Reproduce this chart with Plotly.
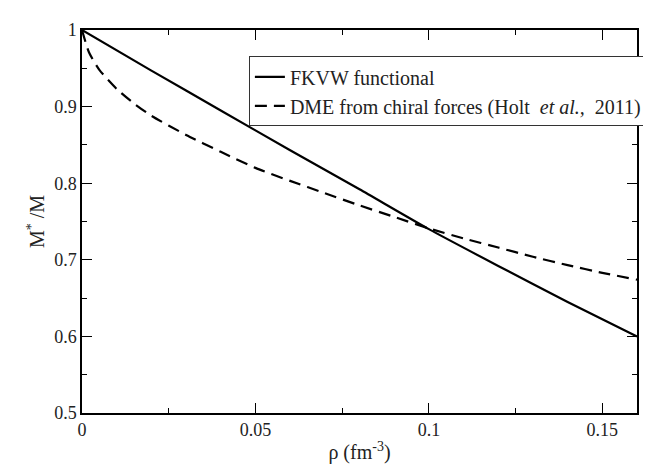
import plotly.graph_objects as go

# FKVW functional (solid)
rho_fkvw = [0.0, 0.02, 0.04, 0.06, 0.08, 0.10, 0.12, 0.14, 0.16]
m_fkvw = [1.0, 0.947, 0.895, 0.843, 0.792, 0.740, 0.692, 0.645, 0.600]

# DME from chiral forces (dashed)
rho_dme = [0.0, 0.002, 0.005, 0.01, 0.015, 0.02, 0.03, 0.04, 0.05, 0.06, 0.07,
           0.08, 0.09, 0.10, 0.11, 0.12, 0.13, 0.14, 0.15, 0.16]
m_dme = [1.0, 0.971, 0.948, 0.923, 0.904, 0.888, 0.863, 0.841, 0.820, 0.803, 0.787,
         0.771, 0.756, 0.741, 0.728, 0.716, 0.704, 0.693, 0.683, 0.674]

names = ["FKVW functional", "DME from chiral forces (Holt  <i>et al.,</i>  2011)"]

FONT = "Times New Roman, serif"

fig = go.Figure()
fig.add_trace(go.Scatter(x=rho_fkvw, y=m_fkvw, mode="lines", name=names[0],
                         line=dict(color="black", width=2.2, shape="spline", smoothing=0.6)))
fig.add_trace(go.Scatter(x=rho_dme, y=m_dme, mode="lines", name=names[1],
                         line=dict(color="black", width=2.2, dash="12px,7px", shape="spline", smoothing=0.6)))

axis_common = dict(
    showline=True, linecolor="black", linewidth=1.5, mirror="ticks",
    ticks="inside", ticklen=10, tickwidth=1.2, tickcolor="black",
    showgrid=False, zeroline=False,
    tickfont=dict(family=FONT, size=18, color="#222"),
)

fig.update_xaxes(range=[0, 0.16], dtick=0.05, tick0=0,
                 minor=dict(dtick=0.025, ticks="inside", ticklen=5, tickcolor="black", tickwidth=1.2),
                 title=dict(text="ρ (fm<sup>-3</sup>)", font=dict(family=FONT, size=20, color="#222"), standoff=6),
                 **axis_common)
fig.update_yaxes(range=[0.5, 1.0], dtick=0.1, tick0=0.5,
                 minor=dict(dtick=0.05, ticks="inside", ticklen=5, tickcolor="black", tickwidth=1.2),
                 title=dict(text="M<sup>*</sup> /M", font=dict(family=FONT, size=20, color="#222"), standoff=4),
                 **axis_common)

fig.update_layout(
    width=651, height=466,
    margin=dict(l=74, r=15, t=12, b=61),
    plot_bgcolor="white", paper_bgcolor="white",
    font=dict(family=FONT, color="#222"),
    legend=dict(x=0.3007, y=0.931, xanchor="left", yanchor="top",
                bgcolor="white", bordercolor="#333", borderwidth=1,
                font=dict(family=FONT, size=20, color="#222"),
                tracegroupgap=0, itemwidth=30),
)

fig.write_html("out.html")
